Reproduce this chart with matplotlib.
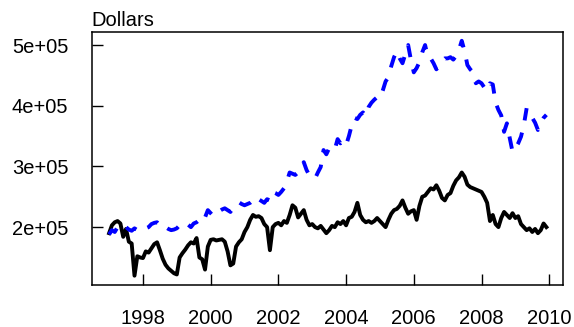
import numpy as np
import matplotlib
matplotlib.use("Agg")
import matplotlib.pyplot as plt

plt.rcParams['font.family'] = ['Liberation Sans', 'DejaVu Sans']

# Serie mensual, enero 1997 - diciembre 2009 (miles de dolares)
start_year = 1997
black_k = [
    190, 203, 208, 210, 206, 184, 197, 176, 173, 120, 152, 150,  # 1997
    149, 160, 158, 165, 172, 175, 162, 148, 138, 132, 128, 124,  # 1998
    122, 150, 157, 163, 170, 175, 173, 182, 150, 147, 130, 168,  # 1999
    179, 180, 178, 179, 180, 176, 160, 137, 140, 168, 175, 180,  # 2000
    192, 200, 212, 220, 217, 218, 215, 205, 200, 162, 200, 205,  # 2001
    207, 203, 210, 207, 220, 236, 232, 216, 222, 228, 212, 203,  # 2002
    205, 200, 198, 202, 196, 190, 195, 202, 200, 208, 205, 210,  # 2003
    203, 215, 217, 225, 240, 220, 212, 208, 210, 207, 210, 215,  # 2004
    210, 205, 200, 212, 222, 228, 230, 235, 244, 232, 222, 226,  # 2005
    228, 212, 235, 250, 252, 258, 264, 262, 269, 260, 248, 244,  # 2006
    253, 256, 268, 277, 282, 290, 283, 270, 266, 264, 262, 260,  # 2007
    258, 250, 240, 210, 220, 205, 200, 215, 225, 220, 215, 223,  # 2008
    215, 218, 205, 200, 195, 198, 192, 197, 190, 195, 206, 200,  # 2009
]
blue_k = [
    188, 195, 192, 200, 198, 203, 200, 196, 194, 198, 195, 193,  # 1997
    196, 198, 200, 205, 207, 208, 203, 198, 200, 197, 195, 196,  # 1998
    198, 203, 205, 208, 204, 200, 206, 208, 212, 220, 216, 228,  # 1999
    223, 218, 222, 226, 229, 231, 228, 225, 232, 236, 241, 238,  # 2000
    236, 238, 240, 244, 250, 246, 243, 240, 246, 244, 258, 256,  # 2001
    253, 258, 264, 275, 290, 288, 286, 290, 298, 307, 294, 285,  # 2002
    282, 280, 290, 299, 327, 320, 330, 332, 328, 345, 338, 342,  # 2003
    335, 350, 368, 380, 378, 385, 389, 383, 398, 405, 410, 414,  # 2004
    412, 425, 440, 447, 465, 480, 490, 478, 470, 485, 500, 475,  # 2005
    455, 462, 472, 488, 500, 480, 478, 470, 460, 465, 474, 478,  # 2006
    478, 480, 476, 482, 492, 507, 490, 467, 460, 455, 437, 440,  # 2007
    437, 430, 425, 437, 435, 405, 393, 384, 357, 371, 347, 324,  # 2008
    330, 338, 349, 368, 396, 390, 380, 372, 360, 372, 380, 385,  # 2009
]
x_ticks = [1998, 2000, 2002, 2004, 2006, 2008, 2010]
y_ticks = [2e5, 3e5, 4e5, 5e5]
y_labels = ["2e+05", "3e+05", "4e+05", "5e+05"]

black = np.array(black_k) * 1000.0
blue = np.array(blue_k) * 1000.0
t = start_year + np.arange(len(black)) / 12.0

fig = plt.figure(figsize=(5.74, 3.27), dpi=100)
ax = fig.add_axes([0.160, 0.128, 0.821, 0.774])

ax.plot(t, black, color="black", lw=2.8, solid_joinstyle="round")
ax.plot(t, blue, color="#0000ff", lw=2.8, linestyle=(0, (3.2, 3.2)))

ax.set_xlim(1996.49, 2010.41)
ax.set_ylim(1.044e5, 5.214e5)

ax.set_xticks(x_ticks)
ax.set_xticklabels([str(v) for v in x_ticks])
ax.set_yticks(y_ticks)
ax.set_yticklabels(y_labels)
ax.tick_params(direction="in", length=8, width=1, labelsize=14.5, color="black")
ax.tick_params(axis="x", pad=17.5)
ax.tick_params(axis="y", pad=17)

for s in ax.spines.values():
    s.set_linewidth(1.1)

ax.text(0.0, 1.01, "Dollars", transform=ax.transAxes, fontsize=14.5,
        ha="left", va="bottom")

fig.savefig("out.png", dpi=100)
